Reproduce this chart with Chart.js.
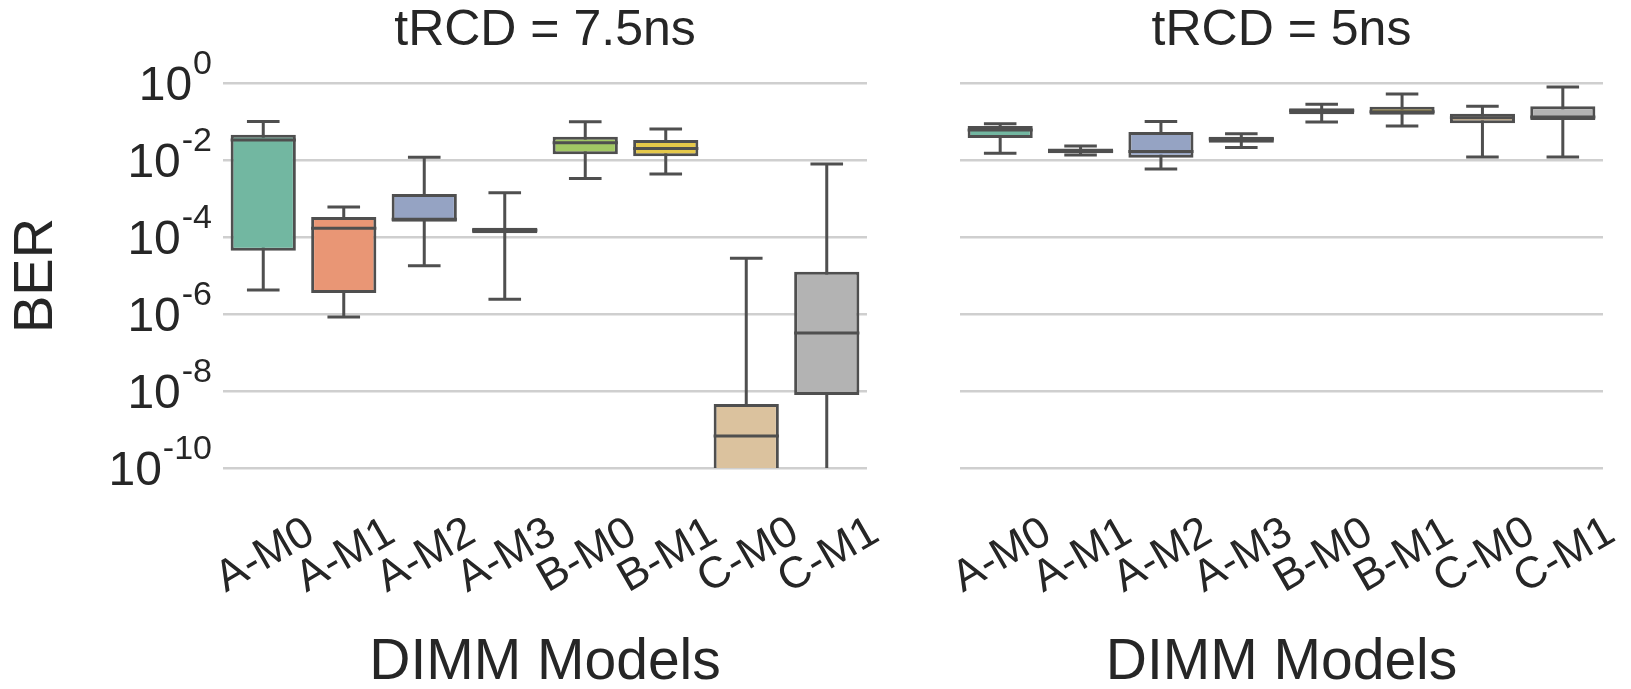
<!DOCTYPE html>
<html>
<head>
<meta charset="utf-8">
<script src="https://cdn.jsdelivr.net/npm/chart.js@4.4.0/dist/chart.umd.min.js"></script>
<style>
  html, body { margin: 0; padding: 0; background: #fff; overflow: hidden; }
  #wrap { position: relative; width: 1631px; height: 689px; overflow: hidden; }
  canvas { position: absolute; top: 0; }
  #left { left: 0; }
  #right { left: 900px; }
</style>
</head>
<body>
<div id="wrap">
  <canvas id="left" width="900" height="700"></canvas>
  <canvas id="right" width="731" height="700"></canvas>
</div>
<script>
const models = ['A-M0', 'A-M1', 'A-M2', 'A-M3', 'B-M0', 'B-M1', 'C-M0', 'C-M1'];
const yTickExps = [0, -2, -4, -6, -8, -10];
const boxColors = ['#72b7a1', '#e99675', '#95a3c3', '#db95c0', '#a2c864', '#e5c849', '#dbc29e', '#b3b3b3'];

// tRCD = 7.5ns
const slowLow  = [4.2e-6, 8.3e-7, 1.8e-5, 2.4e-6, 3.3e-3, 4.3e-3, 1e-12, 1e-11];
const slowQ1   = [4.4e-5, 3.5e-6, 2.5e-4, 1.25e-4, 0.014, 0.0126, 1e-11, 7.9e-9];
const slowMed  = [0.033, 1.7e-4, 2.9e-4, 1.5e-4, 0.028, 0.02, 6.8e-10, 3.2e-7];
const slowQ3   = [0.045, 3.3e-4, 1.3e-3, 1.75e-4, 0.04, 0.033, 4.6e-9, 1.25e-5];
const slowHigh = [0.1, 6e-4, 0.0118, 1.4e-3, 0.098, 0.064, 2.8e-5, 7.9e-3];

// tRCD = 5ns
const fastLow  = [0.015, 0.0135, 0.0058, 0.021, 0.097, 0.076, 0.012, 0.012];
const fastQ1   = [0.037, 0.015, 0.0114, 0.028, 0.155, 0.15, 0.09, 0.11];
const fastMed  = [0.06, 0.017, 0.0166, 0.035, 0.19, 0.18, 0.125, 0.13];
const fastQ3   = [0.076, 0.02, 0.053, 0.04, 0.22, 0.24, 0.16, 0.25];
const fastHigh = [0.087, 0.023, 0.1, 0.048, 0.28, 0.52, 0.25, 0.79];

const textColor = '#262626';
const lineColor = '#4f4f4f';
const fontFamily = '"Liberation Sans", Arial, sans-serif';
Chart.defaults.font.family = fontFamily;
Chart.defaults.color = textColor;

function clipToArea(ctx, area) {
  ctx.beginPath();
  ctx.rect(area.left, area.top, area.right - area.left, area.bottom - area.top);
  ctx.clip();
}

function whiskerPlugin(low, med, high) {
  return {
    id: 'whiskers',
    beforeDatasetsDraw(chart) {
      const {ctx, chartArea} = chart;
      const y = chart.scales.y;
      const bars = chart.getDatasetMeta(0).data;
      ctx.save();
      clipToArea(ctx, chartArea);
      ctx.strokeStyle = lineColor;
      ctx.lineWidth = 3;
      bars.forEach((bar, i) => {
        const x = bar.x;
        const half = bar.width / 4;
        const yl = y.getPixelForValue(low[i]);
        const yh = y.getPixelForValue(high[i]);
        ctx.beginPath();
        ctx.moveTo(x, yl);
        ctx.lineTo(x, yh);
        ctx.moveTo(x - half, yl);
        ctx.lineTo(x + half, yl);
        ctx.moveTo(x - half, yh);
        ctx.lineTo(x + half, yh);
        ctx.stroke();
      });
      ctx.restore();
    },
    afterDatasetsDraw(chart) {
      const {ctx, chartArea} = chart;
      const y = chart.scales.y;
      const bars = chart.getDatasetMeta(0).data;
      ctx.save();
      clipToArea(ctx, chartArea);
      ctx.strokeStyle = lineColor;
      ctx.lineWidth = 3;
      bars.forEach((bar, i) => {
        const ym = y.getPixelForValue(med[i]);
        ctx.beginPath();
        ctx.moveTo(bar.x - bar.width / 2, ym);
        ctx.lineTo(bar.x + bar.width / 2, ym);
        ctx.stroke();
      });
      ctx.restore();
    }
  };
}

// y tick labels as 10 with a raised exponent
const expLabels = {
  id: 'expLabels',
  afterDraw(chart) {
    const {ctx} = chart;
    const y = chart.scales.y;
    const xr = y.right - 11;
    ctx.save();
    ctx.fillStyle = textColor;
    ctx.textAlign = 'right';
    ctx.textBaseline = 'alphabetic';
    yTickExps.forEach(e => {
      const py = y.getPixelForValue(Math.pow(10, e));
      const sup = String(e);
      ctx.font = '34px ' + fontFamily;
      const sw = ctx.measureText(sup).width;
      ctx.fillText(sup, xr, py - 9);
      ctx.font = '48px ' + fontFamily;
      ctx.fillText('10', xr - sw - 1, py + 17);
    });
    ctx.restore();
  }
};

// category labels rotated 30deg and centred under each tick
const rotatedLabels = {
  id: 'rotatedLabels',
  afterDraw(chart) {
    const {ctx} = chart;
    const x = chart.scales.x;
    ctx.save();
    ctx.fillStyle = textColor;
    ctx.font = '44px ' + fontFamily;
    ctx.textAlign = 'center';
    ctx.textBaseline = 'middle';
    chart.data.labels.forEach((lab, i) => {
      ctx.save();
      ctx.translate(x.getPixelForTick(i) + 2, x.top + 88);
      ctx.rotate(-Math.PI / 6);
      ctx.fillText(lab, 0, 0);
      ctx.restore();
    });
    ctx.restore();
  }
};

function makeChart(id, title, q1, q3, low, med, high, yWidth, padRight, showBer) {
  const plugins = [whiskerPlugin(low, med, high), rotatedLabels];
  if (showBer) plugins.push(expLabels);
  return new Chart(document.getElementById(id), {
    type: 'bar',
    data: {
      labels: models,
      datasets: [{
        data: q1.map((v, i) => [v, q3[i]]),
        backgroundColor: boxColors,
        borderColor: lineColor,
        borderWidth: 3,
        borderSkipped: false,
        barPercentage: 0.81,
        categoryPercentage: 1,
        clip: 0
      }]
    },
    options: {
      responsive: false,
      animation: false,
      events: [],
      layout: { padding: { left: 0, right: padRight, top: 0, bottom: 0 } },
      plugins: {
        legend: { display: false },
        tooltip: { enabled: false },
        title: {
          display: true,
          text: title,
          fullSize: false,
          color: textColor,
          font: { size: 50, weight: 'normal' },
          padding: { top: 1, bottom: 22 }
        }
      },
      scales: {
        x: {
          grid: { display: false },
          border: { display: false },
          ticks: { display: false },
          title: {
            display: true,
            text: 'DIMM Models',
            color: textColor,
            font: { size: 57 },
            padding: { top: 0, bottom: 3 }
          },
          afterFit(scale) { scale.height = 232; }
        },
        y: {
          type: 'logarithmic',
          min: 1e-10,
          max: 1,
          border: { display: false },
          grid: { color: '#cfcfcf', lineWidth: 2.5, drawTicks: false },
          ticks: { display: false },
          afterBuildTicks(scale) {
            scale.ticks = yTickExps.map(e => ({ value: Math.pow(10, e) }));
          },
          title: {
            display: showBer,
            text: 'BER',
            color: textColor,
            font: { size: 56 },
            padding: { top: 3, bottom: 0 }
          },
          afterFit(scale) { scale.width = yWidth; }
        }
      }
    },
    plugins: plugins
  });
}

makeChart('left', 'tRCD = 7.5ns', slowQ1, slowQ3, slowLow, slowMed, slowHigh, 223, 33, true);
makeChart('right', 'tRCD = 5ns', fastQ1, fastQ3, fastLow, fastMed, fastHigh, 60, 28, false);
</script>
</body>
</html>
